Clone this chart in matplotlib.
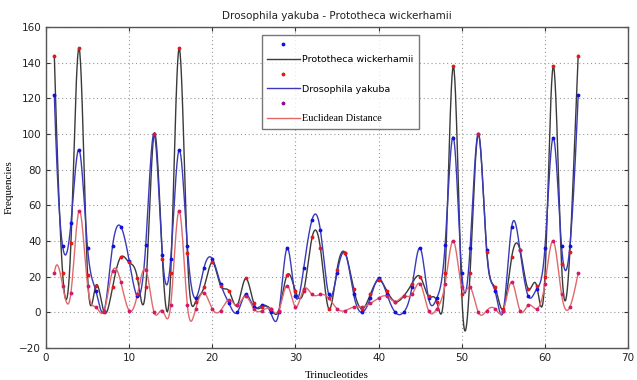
import numpy as np
import matplotlib
matplotlib.use("Agg")
import matplotlib.pyplot as plt
from matplotlib.lines import Line2D

# trinucleotide index 1..64
trinuc = np.arange(1, 65)

prototheca = [144, 22, 39, 148, 21, 15, 0, 14, 31, 28,
              19, 14, 100, 30, 22, 148, 33, 6, 14, 28,
              15, 12, 4, 19, 5, 3, 2, 1, 21, 12,
              12, 42, 36, 2, 24, 33, 13, 2, 10, 18,
              12, 6, 9, 16, 20, 9, 6, 22, 138, 10,
              22, 100, 34, 14, 2, 31, 35, 13, 15, 20,
              138, 27, 34, 144]

drosophila = [122, 37, 50, 91, 36, 12, 1, 37, 48, 29,
              9, 38, 100, 32, 30, 91, 37, 8, 25, 30,
              16, 5, 0, 10, 3, 4, 0, 0, 36, 9,
              25, 52, 46, 10, 22, 33, 10, 0, 8, 19,
              10, 0, 0, 14, 36, 8, 8, 38, 98, 22,
              36, 100, 35, 12, 1, 48, 35, 9, 13, 36,
              98, 37, 37, 122]

euclid = [22, 15, 11, 57, 15, 3, 1, 23, 17, 1,
          10, 24, 0, 1, 4, 57, 4, 2, 11, 2,
          1, 7, 4, 9, 2, 1, 2, 1, 15, 3,
          13, 10, 10, 8, 2, 1, 3, 3, 5, 8,
          9, 6, 9, 10, 16, 1, 2, 16, 40, 14,
          14, 0, 1, 2, 1, 17, 1, 4, 2, 16,
          40, 10, 3, 22]


def spline(x, y, xs):
    # cubic spline, not-a-knot ends (like matlab spline)
    x = np.asarray(x, float)
    y = np.asarray(y, float)
    n = len(x)
    h = np.diff(x)
    A = np.zeros((n, n))
    r = np.zeros(n)
    for i in range(1, n - 1):
        A[i, i - 1] = h[i - 1]
        A[i, i] = 2 * (h[i - 1] + h[i])
        A[i, i + 1] = h[i]
        r[i] = 6 * ((y[i + 1] - y[i]) / h[i] - (y[i] - y[i - 1]) / h[i - 1])
    A[0, 0], A[0, 1], A[0, 2] = h[1], -(h[0] + h[1]), h[0]
    A[-1, -3], A[-1, -2], A[-1, -1] = h[-1], -(h[-2] + h[-1]), h[-2]
    M = np.linalg.solve(A, r)
    idx = np.clip(np.searchsorted(x, xs) - 1, 0, n - 2)
    x0, x1 = x[idx], x[idx + 1]
    hh = x1 - x0
    return (M[idx] * (x1 - xs) ** 3 / (6 * hh) + M[idx + 1] * (xs - x0) ** 3 / (6 * hh)
            + (y[idx] / hh - M[idx] * hh / 6) * (x1 - xs)
            + (y[idx + 1] / hh - M[idx + 1] * hh / 6) * (xs - x0))


xs = np.linspace(1, 64, 1500)

fig = plt.figure(figsize=(6.37, 3.8), dpi=100)
ax = fig.add_axes([0.0722, 0.0842, 0.9138, 0.8448])

c_black = "#3a3a3a"
c_blue = "#3a3ab8"
c_red = "#e06a6a"

ax.plot(xs, spline(trinuc, prototheca, xs), color=c_black, lw=1.0)
ax.plot(xs, spline(trinuc, drosophila, xs), color=c_blue, lw=1.0)
ax.plot(xs, spline(trinuc, euclid, xs), color=c_red, lw=1.0)
ax.plot(trinuc, drosophila, ".", color="#1010e0", ms=3.5)
ax.plot(trinuc, prototheca, ".", color="#e01a1a", ms=3.5)
ax.plot(trinuc, euclid, ".", color="#d01a6a", ms=3.5)

ax.set_xlim(0, 70)
ax.set_ylim(-20, 160)
ax.set_xticks(range(0, 71, 10))
ax.set_yticks(range(-20, 161, 20))
ax.grid(True, linestyle=(0, (1, 2.5)), color="#9a9a9a", lw=0.8)
ax.tick_params(direction="in", top=True, right=True, labelsize=7.5, length=3,
               colors="#333333", labelcolor="#222222")
for s in ax.spines.values():
    s.set_color("#555555")
    s.set_linewidth(1.0)

ax.set_title("Drosophila yakuba - Prototheca wickerhamii", fontsize=7.5,
             color="#222222", pad=6)
ax.set_xlabel("Trinucleotides", family="Liberation Serif", fontsize=8, labelpad=6)
ax.set_ylabel("Frequencies", family="Liberation Serif", fontsize=8, labelpad=4)

handles = [
    Line2D([], [], ls="none", marker=".", color="#1010e0", ms=3.5),
    Line2D([], [], color=c_black, lw=1.0),
    Line2D([], [], ls="none", marker=".", color="#e01a1a", ms=3.5),
    Line2D([], [], color=c_blue, lw=1.0),
    Line2D([], [], ls="none", marker=".", color="#8a108a", ms=3.5),
    Line2D([], [], color=c_red, lw=1.0),
]
labels = ["", "Prototheca wickerhamii", "", "Drosophila yakuba", "", "Euclidean Distance"]
leg = ax.legend(handles, labels, loc="upper left", bbox_to_anchor=(0.3715, 0.9753),
                fontsize=6.8, frameon=True, fancybox=False, edgecolor="#555555",
                handlelength=3.4, handletextpad=0.3, labelspacing=0.62,
                borderpad=0.55, borderaxespad=0)
leg.get_frame().set_linewidth(1.0)
leg.get_texts()[5].set_family("Liberation Serif")
leg.get_texts()[5].set_fontsize(7.4)

fig.savefig("out.png", dpi=100)
